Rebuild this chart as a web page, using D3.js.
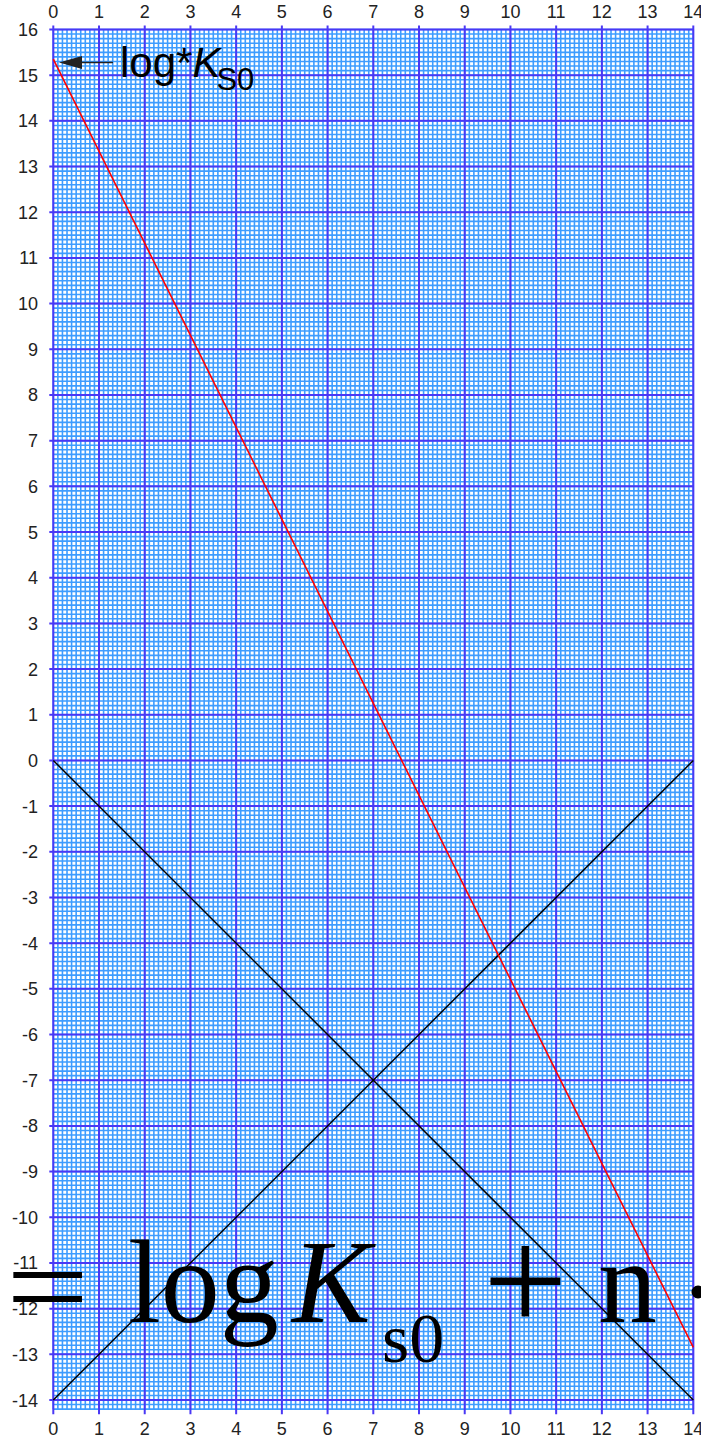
<!DOCTYPE html>
<html><head><meta charset="utf-8">
<script src="https://cdn.jsdelivr.net/npm/d3@7"></script>
<style>html,body{margin:0;padding:0;background:#fff;}svg{display:block;}</style>
</head><body>
<svg id="chart" width="701" height="1440"></svg>
<script>
const xTicks = d3.range(0, 15);
const yTicks = d3.range(-14, 17);
const redLine = [[0, 15.35], [14, -12.85]];
const blackLine1 = [[0, 0], [14, -14]];
const blackLine2 = [[0, -14], [14, 0]];
const labelTop = {main: "log*", k: "K", sub: "S0"};

const svg = d3.select("#chart");
const x = d3.scaleLinear().domain([0, 14]).range([53.3, 693.3]);
const y = d3.scaleLinear().domain([-14, 16]).range([1400, 29.5]);
const yBottom = -14.2;

const g = svg.append("g");
g.append("rect").attr("x", x(0)).attr("y", y(16)).attr("width", x(14) - x(0)).attr("height", y(yBottom) - y(16)).attr("fill", "#fff");

// minor grid every 0.1
const minorX = d3.range(0, 141).map(i => i / 10);
const minorY = d3.range(-142, 161).map(i => i / 10);
g.selectAll(".mx").data(minorX).join("line")
  .attr("x1", d => x(d)).attr("x2", d => x(d)).attr("y1", y(16)).attr("y2", y(yBottom))
  .attr("stroke", "#3d9cff").attr("stroke-width", 1.6);
g.selectAll(".my").data(minorY).join("line")
  .attr("y1", d => y(d)).attr("y2", d => y(d)).attr("x1", x(0)).attr("x2", x(14))
  .attr("stroke", "#3d9cff").attr("stroke-width", 1.6);

// major grid
g.selectAll(".Mx").data(xTicks).join("line")
  .attr("x1", d => x(d)).attr("x2", d => x(d)).attr("y1", y(16) - 4).attr("y2", y(yBottom) + 5)
  .attr("stroke", "#4a38f5").attr("stroke-width", 2);
g.selectAll(".My").data(yTicks).join("line")
  .attr("y1", d => y(d)).attr("y2", d => y(d)).attr("x1", x(0) - 4).attr("x2", x(14))
  .attr("stroke", "#4a38f5").attr("stroke-width", 2);

// tick labels
const lab = svg.append("g").attr("font-family", "Liberation Sans, Arial, sans-serif").attr("font-size", 18).attr("fill", "#222");
lab.selectAll(".yt").data(yTicks).join("text")
  .attr("x", 38).attr("y", d => y(d) + 6.5).attr("text-anchor", "end").text(d => d);
lab.selectAll(".xt").data(xTicks).join("text")
  .attr("x", d => x(d)).attr("y", 18).attr("text-anchor", "middle").text(d => d);
lab.selectAll(".xb").data(xTicks).join("text")
  .attr("x", d => x(d)).attr("y", 1435).attr("text-anchor", "middle").text(d => d);

// lines
const line = d3.line().x(d => x(d[0])).y(d => y(d[1]));
svg.append("path").attr("d", line(blackLine1)).attr("fill", "none").attr("stroke", "#000").attr("stroke-width", 1.5);
svg.append("path").attr("d", line(blackLine2)).attr("fill", "none").attr("stroke", "#000").attr("stroke-width", 1.5);
svg.append("path").attr("d", line(redLine)).attr("fill", "none").attr("stroke", "#ff0000").attr("stroke-width", 1.6);

// big formula (clipped LaTeX text)
const f = svg.append("g").attr("font-family", "Liberation Serif, Times New Roman, serif").attr("fill", "#000");
const fy = 1322;
f.append("text").attr("transform", "translate(6,1327) scale(1.25,1)").attr("font-size", 118).text("=");
f.append("text").attr("x", 128).attr("y", fy).attr("font-size", 118).text("log");
f.append("text").attr("x", 292).attr("y", fy).attr("font-size", 118).attr("font-style", "italic").text("K");
f.append("text").attr("x", 382).attr("y", 1362).attr("font-size", 70).text("s0");
f.append("text").attr("x", 483).attr("y", 1331).attr("font-size", 150).text("+");
f.append("text").attr("x", 598).attr("y", fy).attr("font-size", 118).text("n");
f.append("circle").attr("cx", 698).attr("cy", 1292).attr("r", 6.5).attr("fill", "#000");

// label with arrow
svg.append("line").attr("x1", 113).attr("x2", 78).attr("y1", 62.5).attr("y2", 62.5).attr("stroke", "#222").attr("stroke-width", 1.5);
svg.append("path").attr("d", `M59,62.5 L82,56 L82,69 Z`).attr("fill", "#222");
const t = svg.append("text").attr("font-family", "Liberation Sans, Arial, sans-serif").attr("fill", "#000").attr("y", 77);
t.append("tspan").attr("x", 120).attr("font-size", 42).text(labelTop.main);
t.append("tspan").attr("font-size", 42).attr("font-style", "italic").text(labelTop.k);
t.append("tspan").attr("font-size", 31).attr("dy", 13).attr("dx", -4).text(labelTop.sub);
</script>
</body></html>
